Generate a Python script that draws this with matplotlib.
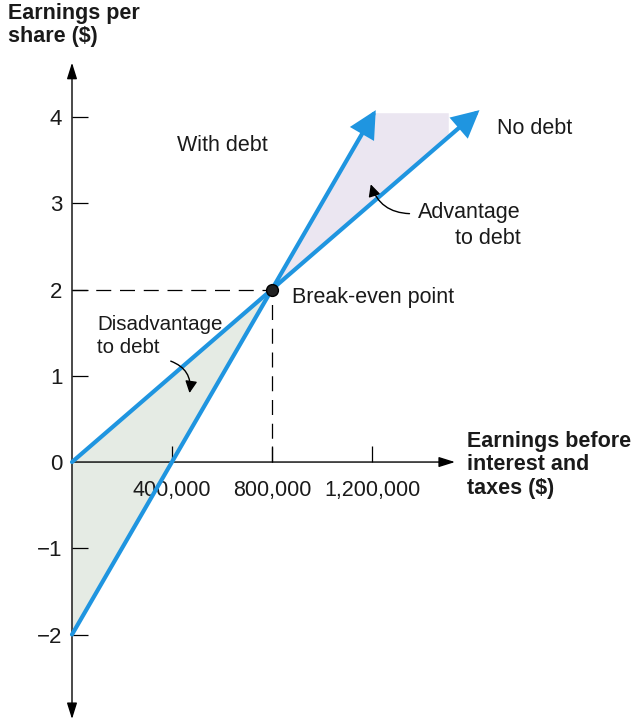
import matplotlib
matplotlib.use("Agg")
import matplotlib.pyplot as plt

plt.rcParams['font.family'] = ['Liberation Sans', 'DejaVu Sans']

# ---- data ----
x_ticks = [400000, 800000, 1200000]
x_tick_labels = ["400,000", "800,000", "1,200,000"]
y_ticks = [-2, -1, 0, 1, 2, 3, 4]
y_tick_labels = ["\u22122", "\u22121", "0", "1", "2", "3", "4"]

no_debt_ebit = [0, 1630000]
no_debt_eps = [0, 4.08]
with_debt_ebit = [0, 1215000]
with_debt_eps = [-2, 4.08]

breakeven_ebit = 800000
breakeven_eps = 2

# shaded regions
disadv_x = [0, 800000]
disadv_upper = [0, 2]
disadv_lower = [-2, 2]
adv_x = [800000, 1210000, 1505000]
adv_upper = [2, 4.05, 4.05]
adv_lower = [2, 3.025, 3.76]

BLUE = "#1f95e0"
GREEN = "#e5ebe4"
PURPLE = "#ebe6f1"
TXT = "#1a1a1a"
FS = 15.5

fig = plt.figure(figsize=(6.31, 7.22), dpi=100)
ax = fig.add_axes([0, 0, 1, 1])
ax.set_xlim(-288000, 2236000)
ax.set_ylim(-3.014, 5.357)
ax.patch.set_visible(False)

# fills
ax.fill_between(disadv_x, disadv_lower, disadv_upper, color=GREEN, lw=0, zorder=1)
ax.fill_between(adv_x, adv_lower, adv_upper, color=PURPLE, lw=0, zorder=1)

# dashed guide lines
ax.plot([0, breakeven_ebit], [breakeven_eps, breakeven_eps], color="black",
        lw=0.9, linestyle=(0, (12, 7)), zorder=2)
ax.plot([breakeven_ebit, breakeven_ebit], [0, breakeven_eps], color="black",
        lw=0.9, linestyle=(0, (12, 7)), zorder=2)

# axes with arrows
for sp in ax.spines.values():
    sp.set_visible(False)
ax.spines['left'].set_position(('data', 0))
ax.spines['bottom'].set_position(('data', 0))
ax.annotate("", xy=(0, 4.63), xytext=(0, -2.98),
            arrowprops=dict(arrowstyle="<|-|>,head_length=0.7,head_width=0.22",
                            lw=1.0, color="black", shrinkA=0, shrinkB=0,
                            mutation_scale=14), zorder=3)
ax.annotate("", xy=(1532000, 0), xytext=(0, 0),
            arrowprops=dict(arrowstyle="-|>,head_length=0.7,head_width=0.22",
                            lw=1.0, color="black", shrinkA=0, shrinkB=0,
                            mutation_scale=14), zorder=3)

# ticks
ax.set_xticks(x_ticks)
ax.set_xticklabels(x_tick_labels)
ax.set_yticks(y_ticks)
ax.set_yticklabels(y_tick_labels)
ax.tick_params(axis='x', direction='in', length=11.5, width=0.9, pad=13,
               labelsize=FS, colors="black", labelcolor=TXT)
ax.tick_params(axis='y', direction='in', length=11.5, width=0.9, pad=7,
               labelsize=16, colors="black", labelcolor=TXT)
for t in ax.yaxis.get_major_ticks():
    if t.get_loc() == 0:
        t.tick1line.set_visible(False)

# blue lines with arrowheads
for xs, ys in [(no_debt_ebit, no_debt_eps), (with_debt_ebit, with_debt_eps)]:
    ax.annotate("", xy=(xs[1], ys[1]), xytext=(xs[0], ys[0]),
                arrowprops=dict(arrowstyle="-|>,head_length=0.75,head_width=0.38",
                                lw=3.0, color=BLUE, shrinkA=0, shrinkB=0,
                                mutation_scale=20, joinstyle="miter"),
                zorder=4)

# break-even dot
ax.plot([breakeven_ebit], [breakeven_eps], marker="o", ms=8.5, color="#222222",
        mec="black", zorder=6)

# labels
fig.text(8 / 631, 1 - 3 / 722, "Earnings per\nshare ($)", ha="left", va="top",
         fontsize=FS, fontweight="bold", linespacing=1.15, color=TXT)
ax.text(1580000, -0.03, "Earnings before\ninterest and\ntaxes ($)", ha="left",
        va="center", fontsize=FS, fontweight="bold", linespacing=1.15, color=TXT)
ax.text(600000, 3.675, "With debt", ha="center", va="center", fontsize=FS, color=TXT)
ax.text(1700000, 3.87, "No debt", ha="left", va="center", fontsize=FS, color=TXT)
ax.text(1384000, 2.74, "Advantage\nto debt", ha="left", va="center",
        fontsize=FS, multialignment="right", linespacing=1.3, color=TXT)
ax.text(100000, 1.46, "Disadvantage\nto debt", ha="left", va="center",
        fontsize=14.8, multialignment="left", linespacing=1.3, color=TXT)
ax.text(880000, 1.91, "Break-even point", ha="left", va="center", fontsize=FS,
        color=TXT)

# curved pointer arrows
ax.annotate("", xy=(1195000, 3.22), xytext=(1350000, 2.88),
            arrowprops=dict(arrowstyle="-|>,head_length=0.6,head_width=0.3",
                            connectionstyle="arc3,rad=-0.35", lw=1.0,
                            color="black", shrinkA=0, shrinkB=0,
                            mutation_scale=12), zorder=5)
ax.annotate("", xy=(470000, 0.8), xytext=(395000, 1.17),
            arrowprops=dict(arrowstyle="-|>,head_length=0.6,head_width=0.3",
                            connectionstyle="arc3,rad=-0.4", lw=1.0,
                            color="black", shrinkA=0, shrinkB=0,
                            mutation_scale=12), zorder=5)

fig.savefig("out.png", dpi=100)
